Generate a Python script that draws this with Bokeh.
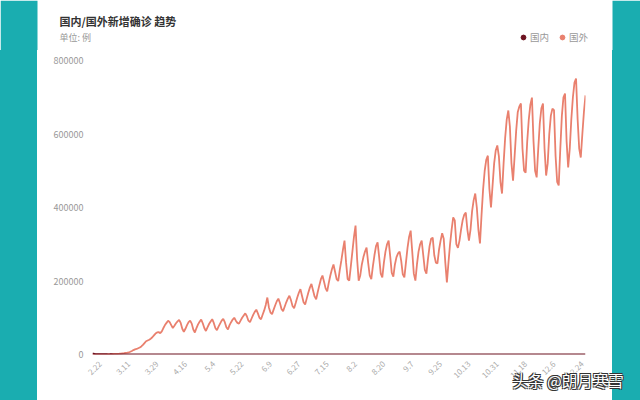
import pandas as pd
from bokeh.plotting import figure
from bokeh.layouts import column, row
from bokeh.models import (ColumnDataSource, FixedTicker, BasicTickFormatter, Label,
                          Legend, LegendItem, BoxAnnotation, Range1d, Div)
from bokeh.embed import file_html
from bokeh.resources import INLINE

# ---- data (daily new confirmed cases, from 2020-02-17) ----
start_date = "2020-02-17"

foreign = [
    100, 120, 150, 200, 250, 300, 350,
    450, 400, 500, 700, 900, 1100, 1300,
    1500, 1700, 1900, 2200, 2600, 3200, 3800,
    4500, 5200, 6000, 7500, 9500, 12000, 14000,
    15000, 17000, 19000, 22000, 26000, 31000, 36000,
    38000, 40000, 43000, 47000, 52000, 57000, 60000,
    61000, 58000, 63000, 72000, 80000, 86000, 92000,
    88000, 80000, 72000, 78000, 85000, 90000, 94000,
    86000, 70000, 62000, 70000, 80000, 88000, 92000,
    84000, 68000, 60000, 72000, 82000, 89000, 95000,
    85000, 72000, 64000, 74000, 83000, 90000, 96000,
    86000, 72000, 66000, 76000, 84000, 92000, 97000,
    88000, 74000, 68000, 80000, 88000, 95000, 100000,
    92000, 86000, 84000, 92000, 100000, 106000, 112000,
    104000, 92000, 88000, 98000, 108000, 116000, 122000,
    112000, 100000, 96000, 108000, 120000, 135000, 155000,
    128000, 114000, 110000, 122000, 134000, 145000, 152000,
    140000, 124000, 118000, 130000, 142000, 152000, 160000,
    148000, 132000, 126000, 140000, 155000, 168000, 178000,
    160000, 142000, 136000, 152000, 168000, 182000, 192000,
    175000, 158000, 150000, 170000, 188000, 205000, 215000,
    198000, 180000, 172000, 195000, 215000, 232000, 245000,
    225000, 205000, 200000, 230000, 256000, 285000, 310000,
    250000, 205000, 201000, 240000, 280000, 320000, 351000,
    260000, 201000, 215000, 245000, 265000, 280000, 291000,
    250000, 215000, 205000, 240000, 270000, 295000, 305000,
    265000, 220000, 210000, 250000, 280000, 300000, 310000,
    268000, 222000, 212000, 245000, 265000, 275000, 280000,
    255000, 218000, 210000, 250000, 290000, 320000, 337000,
    280000, 220000, 201000, 245000, 280000, 300000, 310000,
    270000, 230000, 220000, 260000, 295000, 315000, 318000,
    270000, 250000, 248000, 285000, 310000, 330000, 315000,
    250000, 196000, 250000, 300000, 340000, 373000, 365000,
    300000, 290000, 310000, 340000, 365000, 380000, 386000,
    340000, 310000, 340000, 390000, 420000, 438000, 400000,
    340000, 302000, 380000, 450000, 500000, 530000, 541000,
    450000, 400000, 460000, 520000, 555000, 569000, 540000,
    470000, 438000, 520000, 590000, 640000, 664000, 620000,
    520000, 473000, 540000, 610000, 660000, 675000, 683000,
    560000, 500000, 495000, 580000, 640000, 680000, 699000,
    580000, 500000, 482000, 560000, 630000, 670000, 683000,
    560000, 487000, 520000, 600000, 650000, 669000, 665000,
    540000, 470000, 460000, 560000, 650000, 700000, 710000,
    580000, 509000, 560000, 640000, 700000, 740000, 751000,
    640000, 560000, 536000, 600000, 660000, 705000,
]

domestic = [
    1886, 1749, 820, 889, 397, 648, 409,
    508, 406, 433, 327, 427, 573, 202,
    125, 119, 139, 143, 99, 44, 40,
    19, 24, 15, 8, 11, 20, 16,
    21, 13, 34, 39, 41, 46, 39,
    78, 47, 67, 55, 54, 45, 31,
    48, 36, 35, 31, 19, 30, 39,
    32, 62, 63, 42, 46, 99, 108,
    89, 46, 26, 27, 16, 12, 11,
    30, 10, 6, 12, 11, 3, 5,
    6, 22, 4, 12, 1, 2, 3,
    1, 2, 4, 2, 1, 17, 14,
    1, 7, 3, 4, 8, 5, 7,
    6, 5, 5, 4, 2, 3, 11,
    7, 1, 2, 5, 4, 2, 16,
    5, 3, 7, 6, 3, 6, 4,
    3, 3, 11, 8, 11, 57, 49,
    40, 44, 28, 31, 32, 25, 26,
    18, 22, 19, 11, 21, 17, 12,
    19, 3, 3, 5, 3, 5, 8,
    8, 7, 6, 7, 7, 8, 10,
    4, 8, 6, 11, 28, 22, 16,
    14, 11, 14, 22, 21, 46, 61,
    68, 101, 105, 127, 123, 45, 49,
    43, 36, 27, 37, 27, 23, 23,
    44, 19, 25, 22, 19, 22, 17,
    22, 11, 9, 22, 16, 22, 17,
    24, 15, 9, 9, 9, 16, 9,
    10, 10, 12, 5, 11, 10, 10,
    10, 6, 7, 11, 8, 27, 10,
    8, 10, 12, 32, 14, 13, 14,
    10, 7, 9, 12, 8, 12, 21,
    14, 10, 21, 24, 15, 20, 10,
    20, 20, 10, 19, 18, 13, 15,
    6, 24, 13, 11, 13, 24, 13,
    16, 28, 19, 19, 17, 20, 21,
    25, 42, 23, 47, 25, 26, 24,
    35, 21, 24, 33, 27, 19, 21,
    17, 20, 18, 18, 17, 24, 20,
    8, 12, 16, 13, 17, 22, 22,
    25, 20, 8, 17, 13, 7, 14,
    7, 13, 22, 15, 16, 12, 17,
    14, 26, 17, 19, 10, 23, 20,
    16, 23, 15, 21, 26, 26, 16,
    14, 15, 10, 16, 12, 15,
]

x_tick_labels = ["2.22", "3.11", "3.29", "4.16", "5.4", "5.22", "6.9", "6.27", "7.15",
                 "8.2", "8.20", "9.7", "9.25", "10.13", "10.31", "11.18", "12.6", "12.24"]
y_ticks = [0, 200000, 400000, 600000, 800000]

series_names = ["国内", "国外"]
series_colors = ["#6d1220", "#e9806e"]

title_text = "国内/国外新增确诊 趋势"
unit_text = "单位: 例"
watermark_text = "头条 @朗月寒雪"

# ---- styling constants ----
FONT = "Noto Sans CJK SC"
TEAL = "#1aadb0"
W = 640
HEAD_H, MAIN_H, FOOT_H = 50, 350, 28
LEFT_W, RIGHT_W = 37, 28
MAIN_W = W - LEFT_W - RIGHT_W


def bare_figure(w, h, fill, alpha=1.0):
    f = figure(width=w, height=h, output_backend="svg", toolbar_location=None,
               x_range=Range1d(0, w), y_range=Range1d(h, 0),
               x_axis_location=None, y_axis_location=None, min_border=0, title=None)
    f.outline_line_color = None
    f.background_fill_color = fill
    f.border_fill_color = fill
    f.background_fill_alpha = alpha
    f.border_fill_alpha = alpha
    f.xgrid.visible = False
    f.ygrid.visible = False
    return f


# ---- header: title, unit, legend ----
head = bare_figure(W, HEAD_H, "white")
head.add_layout(BoxAnnotation(left=0, right=LEFT_W, fill_color=TEAL, fill_alpha=1, line_color=None))
head.add_layout(BoxAnnotation(left=W - RIGHT_W, right=W, fill_color=TEAL, fill_alpha=1, line_color=None))
head.add_layout(Label(x=59, y=20, text=title_text, text_font=FONT, text_font_size="11px",
                      text_font_style="bold", text_color="#333333",
                      text_baseline="middle", text_align="left"))
head.add_layout(Label(x=59, y=37, text=unit_text, text_font=FONT, text_font_size="9px",
                      text_color="#999999", text_baseline="middle", text_align="left"))
# legend markers (their single point lies outside the visible band)
r_dom = head.scatter(x=[-50], y=[-50], size=5, marker="circle",
                     fill_color=series_colors[0], line_color=series_colors[0])
r_for = head.scatter(x=[-50], y=[-50], size=5, marker="circle",
                     fill_color=series_colors[1], line_color=series_colors[1])
legend = Legend(items=[LegendItem(label=series_names[0], renderers=[r_dom], index=0),
                       LegendItem(label=series_names[1], renderers=[r_for], index=0)],
                orientation="horizontal", location=(517, 6),
                border_line_color=None, background_fill_alpha=0,
                padding=0, margin=0, spacing=6,
                glyph_width=12, glyph_height=12, label_height=12,
                label_standoff=1, label_text_font=FONT, label_text_font_size="9.5px",
                label_text_color="#999999", label_text_baseline="middle")
head.add_layout(legend)

# ---- main chart ----
dates = [f"{d.month}.{d.day}" for d in pd.date_range(start_date, periods=len(foreign))]
idx = list(range(len(foreign)))
src = ColumnDataSource(dict(x=idx, date=dates, foreign=foreign, domestic=domestic))

p = figure(width=MAIN_W, height=MAIN_H, output_backend="svg", toolbar_location=None,
           x_range=Range1d(0, len(foreign) - 1), y_range=Range1d(0, 800000),
           min_border_left=55, min_border_right=27, min_border_top=10, min_border_bottom=46)
p.outline_line_color = None
p.background_fill_color = "white"
p.border_fill_color = "white"
p.xgrid.visible = False
p.ygrid.visible = False

tick_pos = [dates.index(lbl) for lbl in x_tick_labels]
p.xaxis.ticker = FixedTicker(ticks=tick_pos)
p.xaxis.major_label_overrides = {t: lbl for t, lbl in zip(tick_pos, x_tick_labels)}
p.xaxis.major_label_orientation = 0.785398
p.xaxis.axis_line_color = None
p.xaxis.major_tick_line_color = None
p.xaxis.minor_tick_line_color = None
p.xaxis.major_label_standoff = 2
p.xaxis.major_label_text_color = "#aaaaaa"
p.xaxis.major_label_text_font = FONT
p.xaxis.major_label_text_font_size = "8px"

p.yaxis.ticker = FixedTicker(ticks=y_ticks)
p.yaxis.formatter = BasicTickFormatter(use_scientific=False)
p.yaxis.axis_line_color = None
p.yaxis.major_tick_line_color = None
p.yaxis.minor_tick_line_color = None
p.yaxis.major_label_standoff = 3
p.yaxis.major_label_text_color = "#999999"
p.yaxis.major_label_text_font = FONT
p.yaxis.major_label_text_font_size = "9px"

p.line("x", "foreign", source=src, line_color=series_colors[1], line_width=1.8)
p.line("x", "domestic", source=src, line_color=series_colors[0], line_width=2)

left_strip = Div(width=LEFT_W, height=MAIN_H, margin=0, styles={"background-color": TEAL})
right_strip = Div(width=RIGHT_W, height=MAIN_H, margin=0, styles={"background-color": TEAL})

# ---- footer overlay: watermark (transparent, pulled up over the chart bottom) ----
foot = bare_figure(W, FOOT_H, "white", alpha=0.0)
foot.margin = (-FOOT_H, 0, 0, 0)
for dx, dy in [(1, 1), (-1, -1), (1, -1), (-1, 1)]:
    foot.add_layout(Label(x=512 + dx, y=7.5 + dy, text=watermark_text, text_font=FONT,
                          text_font_size="15.5px", text_color="#333333",
                          text_baseline="middle", text_align="left"))
foot.add_layout(Label(x=512, y=7.5, text=watermark_text, text_font=FONT,
                      text_font_size="15.5px", text_color="white",
                      text_baseline="middle", text_align="left"))

layout = column(head, row(left_strip, p, right_strip, spacing=0), foot, spacing=0)

open("out.html", "w").write(file_html(layout, INLINE))
